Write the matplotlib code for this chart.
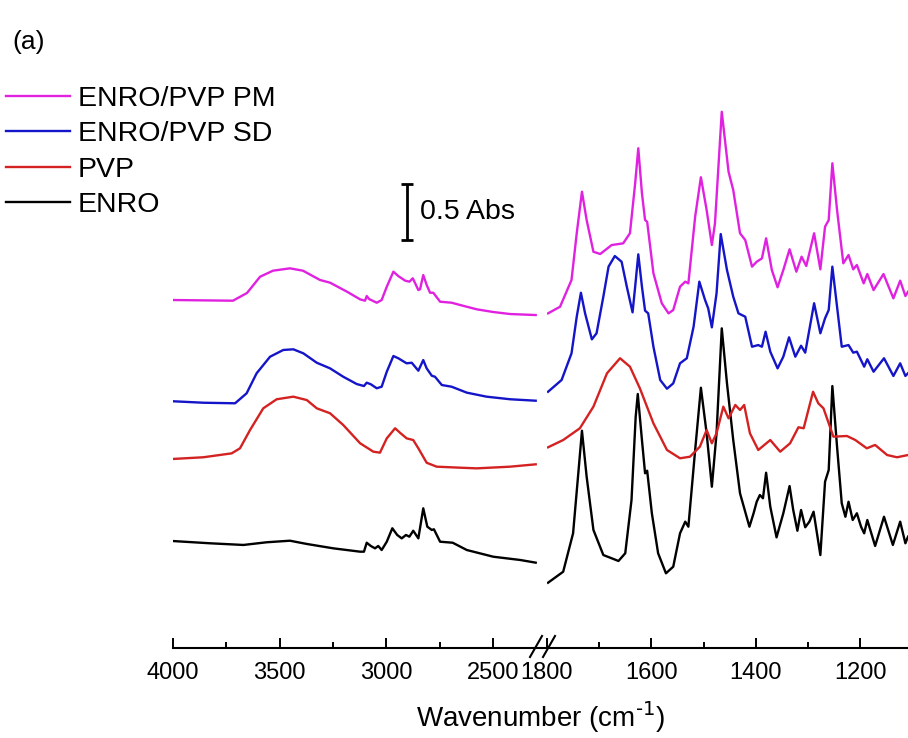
"""
FTIR spectra (a): ENRO, PVP, ENRO/PVP SD and ENRO/PVP PM, stacked, broken x axis.
Output: out.png
"""
import matplotlib
matplotlib.use("Agg")
import matplotlib.pyplot as plt
from matplotlib.lines import Line2D

plt.rcParams["font.family"] = ["Liberation Sans", "DejaVu Sans"]

# ---------------------------------------------------------------------
# Data (wavenumber cm-1, absorbance incl. stacking offset)
# HI = 4000-2300 region, FP = 1800-1100 region
# ---------------------------------------------------------------------
PM_HI_WN = [4000, 3719, 3653, 3592, 3531, 3452, 3391, 3311, 3264, 3184, 3123,
            3100, 3092, 3081, 3045, 3022, 2998, 2967, 2944, 2912, 2892, 2876,
            2850, 2842, 2827, 2811, 2795, 2780, 2748, 2694, 2655, 2576, 2499,
            2420, 2300]
PM_HI_A = [3.107, 3.101, 3.170, 3.315, 3.369, 3.390, 3.369, 3.286, 3.262, 3.181,
           3.113, 3.101, 3.143, 3.116, 3.083, 3.107, 3.226, 3.360, 3.321, 3.280,
           3.271, 3.301, 3.196, 3.203, 3.330, 3.241, 3.172, 3.172, 3.092, 3.083,
           3.063, 3.024, 3.000, 2.982, 2.973]
PM_FP_WN = [1798, 1775, 1753, 1743, 1733, 1724, 1711, 1698, 1676, 1654, 1641,
            1631, 1625, 1618, 1612, 1608, 1596, 1580, 1567, 1558, 1545, 1535,
            1529, 1516, 1505, 1494, 1484, 1478, 1465, 1452, 1443, 1430, 1420,
            1407, 1398, 1388, 1380, 1369, 1358, 1347, 1335, 1322, 1312, 1303,
            1288, 1276, 1267, 1260, 1253, 1244, 1232, 1222, 1213, 1206, 1193,
            1186, 1174, 1155, 1136, 1123, 1113, 1108]
PM_FP_A = [2.988, 3.047, 3.286, 3.703, 4.074, 3.821, 3.538, 3.518, 3.598, 3.613,
           3.703, 4.149, 4.462, 4.060, 3.821, 3.806, 3.346, 3.078, 2.988, 3.018,
           3.226, 3.271, 3.256, 3.851, 4.203, 3.911, 3.598, 3.792, 4.788, 4.253,
           4.089, 3.703, 3.643, 3.405, 3.449, 3.479, 3.658, 3.375, 3.221, 3.375,
           3.560, 3.360, 3.494, 3.411, 3.703, 3.381, 3.762, 3.821, 4.328, 3.911,
           3.435, 3.509, 3.381, 3.420, 3.256, 3.339, 3.196, 3.339, 3.122, 3.280,
           3.143, 3.181]

SD_HI_WN = [4000, 3858, 3709, 3655, 3608, 3545, 3483, 3436, 3389, 3326, 3264,
            3202, 3139, 3105, 3092, 3073, 3045, 3022, 2998, 2967, 2944, 2905,
            2881, 2850, 2827, 2811, 2787, 2772, 2740, 2694, 2623, 2530, 2420,
            2300]
SD_HI_A = [2.203, 2.190, 2.185, 2.274, 2.453, 2.601, 2.661, 2.667, 2.631, 2.547,
           2.497, 2.422, 2.357, 2.339, 2.369, 2.355, 2.319, 2.333, 2.467, 2.607,
           2.587, 2.542, 2.547, 2.476, 2.571, 2.497, 2.431, 2.422, 2.348, 2.333,
           2.280, 2.244, 2.221, 2.208]
SD_FP_WN = [1798, 1772, 1753, 1743, 1735, 1727, 1714, 1705, 1692, 1682, 1670,
            1657, 1647, 1636, 1631, 1625, 1618, 1612, 1606, 1596, 1583, 1570,
            1558, 1545, 1532, 1519, 1508, 1497, 1491, 1484, 1475, 1467, 1455,
            1443, 1433, 1420, 1407, 1395, 1388, 1381, 1372, 1358, 1347, 1336,
            1324, 1313, 1305, 1288, 1276, 1267, 1260, 1253, 1244, 1235, 1222,
            1213, 1206, 1192, 1186, 1174, 1154, 1136, 1123, 1113, 1108]
SD_FP_A = [2.288, 2.393, 2.631, 2.958, 3.172, 2.988, 2.756, 2.810, 3.137, 3.405,
           3.500, 3.449, 3.226, 2.997, 3.226, 3.515, 3.226, 3.012, 2.988, 2.690,
           2.393, 2.315, 2.363, 2.542, 2.587, 2.869, 3.271, 3.107, 3.033, 2.863,
           3.167, 3.696, 3.375, 3.137, 2.988, 2.958, 2.690, 2.705, 2.690, 2.824,
           2.646, 2.497, 2.601, 2.774, 2.601, 2.699, 2.637, 3.078, 2.810, 2.944,
           3.018, 3.405, 3.047, 2.690, 2.705, 2.637, 2.646, 2.512, 2.578, 2.467,
           2.587, 2.429, 2.542, 2.429, 2.453]

PVP_HI_WN = [4000, 3858, 3725, 3686, 3639, 3577, 3514, 3436, 3373, 3326, 3264,
             3202, 3123, 3061, 3030, 2998, 2959, 2936, 2905, 2874, 2850, 2811,
             2764, 2655, 2576, 2420, 2300]
PVP_HI_A = [1.688, 1.703, 1.738, 1.783, 1.946, 2.140, 2.221, 2.244, 2.214, 2.140,
            2.096, 1.991, 1.828, 1.753, 1.744, 1.872, 1.962, 1.922, 1.872, 1.857,
            1.783, 1.654, 1.619, 1.610, 1.604, 1.619, 1.640]
PVP_FP_WN = [1798, 1769, 1737, 1711, 1685, 1660, 1641, 1622, 1596, 1570, 1545,
             1526, 1507, 1494, 1484, 1475, 1462, 1452, 1439, 1430, 1422, 1411,
             1395, 1372, 1353, 1334, 1318, 1308, 1290, 1280, 1270, 1251, 1225,
             1209, 1187, 1171, 1148, 1129, 1108]
PVP_FP_A = [1.792, 1.857, 1.962, 2.155, 2.453, 2.587, 2.512, 2.319, 2.006, 1.768,
            1.694, 1.708, 1.797, 1.946, 1.828, 1.917, 2.155, 2.051, 2.170, 2.125,
            2.170, 1.917, 1.768, 1.857, 1.753, 1.828, 1.971, 1.962, 2.288, 2.185,
            2.140, 1.887, 1.893, 1.857, 1.783, 1.813, 1.723, 1.703, 1.723]

ENRO_HI_WN = [4000, 3827, 3670, 3561, 3452, 3373, 3249, 3123, 3105, 3092, 3073,
              3053, 3038, 3022, 2998, 2972, 2949, 2928, 2908, 2892, 2874, 2850,
              2827, 2808, 2787, 2777, 2748, 2689, 2623, 2499, 2373, 2300]
ENRO_HI_A = [0.955, 0.935, 0.920, 0.944, 0.958, 0.929, 0.890, 0.860, 0.860, 0.940,
             0.911, 0.890, 0.911, 0.875, 0.949, 1.069, 1.009, 0.979, 1.009, 0.994,
             1.047, 0.979, 1.247, 1.083, 1.054, 1.060, 0.949, 0.940, 0.875, 0.815,
             0.786, 0.762]
ENRO_FP_WN = [1798, 1769, 1750, 1740, 1733, 1724, 1711, 1692, 1676, 1663, 1650,
              1638, 1630, 1626, 1618, 1612, 1608, 1599, 1587, 1572, 1558, 1545,
              1535, 1529, 1516, 1505, 1494, 1484, 1475, 1465, 1455, 1443, 1430,
              1412, 1404, 1398, 1392, 1386, 1380, 1372, 1360, 1347, 1335, 1328,
              1320, 1313, 1305, 1297, 1289, 1276, 1267, 1260, 1253, 1244, 1235,
              1228, 1222, 1214, 1206, 1198, 1192, 1186, 1171, 1154, 1137, 1123,
              1113, 1108]
ENRO_FP_A = [0.583, 0.681, 1.024, 1.560, 1.940, 1.529, 1.054, 0.830, 0.801, 0.777,
             0.846, 1.321, 2.065, 2.268, 1.857, 1.560, 1.583, 1.203, 0.846, 0.667,
             0.726, 1.024, 1.128, 1.083, 1.768, 2.324, 1.917, 1.440, 1.917, 2.854,
             2.363, 1.857, 1.381, 1.083, 1.203, 1.306, 1.366, 1.337, 1.565, 1.262,
             0.988, 1.203, 1.446, 1.232, 1.047, 1.232, 1.078, 1.128, 1.217, 0.830,
             1.485, 1.589, 2.339, 1.797, 1.292, 1.172, 1.306, 1.143, 1.203, 1.083,
             1.024, 1.143, 0.911, 1.172, 0.920, 1.128, 0.935, 0.994]

LABELS = ["ENRO", "PVP", "ENRO/PVP SD", "ENRO/PVP PM"]
COLORS = ["#000000", "#D42222", "#1414C8", "#E022E0"]

HI_MAJOR = [4000, 3500, 3000, 2500]
HI_MINOR = [3750, 3250, 2750]
FP_MAJOR = [1800, 1600, 1400, 1200]
FP_MINOR = [1700, 1500, 1300]

# scale bar: 0.5 Abs
BAR_WN, BAR_LOW, BAR_LEN = 2903, 3.643, 0.5

# ---------------------------------------------------------------------
W, H = 908, 738
fig = plt.figure(figsize=(W / 100, H / 100), dpi=100)


def px_box(x0, x1, y0, y1):
    return [x0 / W, 1 - y1 / H, (x1 - x0) / W, (y1 - y0) / H]


ax_hi = fig.add_axes(px_box(173, 547, 100, 648))
ax_fp = fig.add_axes(px_box(547, 908, 100, 648))

series = [
    (ENRO_HI_WN, ENRO_HI_A, ENRO_FP_WN, ENRO_FP_A),
    (PVP_HI_WN, PVP_HI_A, PVP_FP_WN, PVP_FP_A),
    (SD_HI_WN, SD_HI_A, SD_FP_WN, SD_FP_A),
    (PM_HI_WN, PM_HI_A, PM_FP_WN, PM_FP_A),
]
handles = []
for (hw, ha, fw, fa), lab, col in zip(series, LABELS, COLORS):
    ln, = ax_hi.plot(hw, ha, color=col, lw=1.7, label=lab,
                     solid_joinstyle="round")
    ax_fp.plot(fw, fa, color=col, lw=1.7, solid_joinstyle="round")
    handles.append(ln)

ax_hi.set_xlim(4000, 2247)
ax_fp.set_xlim(1800, 1108)
for ax, major, minor in [(ax_hi, HI_MAJOR, HI_MINOR), (ax_fp, FP_MAJOR, FP_MINOR)]:
    ax.set_ylim(0, 4.893)
    ax.set_xticks(major)
    ax.set_xticks(minor, minor=True)
    ax.set_yticks([])
    for side in ("top", "left", "right"):
        ax.spines[side].set_visible(False)
    ax.spines["bottom"].set_linewidth(1.5)
    ax.tick_params(axis="x", which="major", direction="in", length=7, width=1.4,
                   labelsize=17, pad=10)
    ax.tick_params(axis="x", which="minor", direction="in", length=4.5, width=1.4)
    ax.patch.set_alpha(0)

# scale bar
ax_hi.errorbar([BAR_WN], [BAR_LOW + BAR_LEN / 2], yerr=BAR_LEN / 2, color="black",
               lw=2, capsize=4, capthick=2, clip_on=False)
ax_hi.text(2842, BAR_LOW + BAR_LEN / 2, "0.5 Abs", fontsize=20.5, va="center",
           ha="left")

# axis break marks
for x0 in (530, 543):
    fig.add_artist(Line2D([x0 / W, (x0 + 12) / W], [1 - 657 / H, 1 - 636 / H],
                          color="black", lw=1.5))

fig.text(541 / W, 0.015, r"Wavenumber (cm$^{\text{-1}}$)", ha="center",
         va="baseline", fontsize=20)
fig.text(12 / W, 1 - 42 / H, "(a)", fontsize=19, va="center", ha="left")

fig.legend(handles=handles[::-1], loc="upper left",
           bbox_to_anchor=(6 / W, 1 - 86 / H), frameon=False, fontsize=20.5,
           handlelength=2.25, handletextpad=0.28, labelspacing=0.33,
           borderpad=0, borderaxespad=0)

fig.savefig("out.png", dpi=100)
